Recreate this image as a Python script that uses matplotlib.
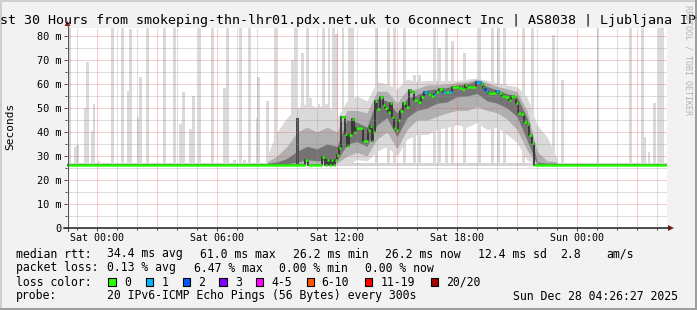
import matplotlib
matplotlib.use("Agg")
import matplotlib.pyplot as plt
from matplotlib.patches import Rectangle, Polygon
from matplotlib.lines import Line2D
import numpy as np

# ---------------- data ----------------
title = "Last 30 Hours from smokeping-thn-lhr01.pdx.net.uk to 6connect Inc | AS8038 | Ljubljana IPv6"

# hours relative to Sat 00:00
x_range = [-1.5, 28.5]
y_top = 83.33

tick_hours = [0, 6, 12, 18, 24]
tick_labels = ["Sat 00:00", "Sat 06:00", "Sat 12:00", "Sat 18:00", "Sun 00:00"]
ytick_vals = [0, 10, 20, 30, 40, 50, 60, 70, 80]
ytick_labels = ["0", "10 m", "20 m", "30 m", "40 m", "50 m", "60 m", "70 m", "80 m"]

# median rtt (ms): segment start hours, values, loss class
med_h = [-1.5, 10.4, 10.55, 11.25, 11.4, 11.5, 11.6, 11.7, 11.8, 11.9, 12.0, 12.1,
         12.2, 12.4, 12.5, 12.6, 12.75, 12.85, 12.95, 13.3, 13.55, 13.65, 13.75, 13.8,
         13.9, 14.0, 14.15, 14.3, 14.4, 14.55, 14.65, 14.75, 14.85, 14.95, 15.05, 15.15,
         15.3, 15.45, 15.6, 15.7, 15.85, 16.05, 16.2, 16.35, 16.55, 16.7, 16.85, 16.95,
         17.1, 17.3, 17.45, 17.6, 17.75, 18.1, 18.25, 18.4, 18.5, 18.95, 19.2, 19.3,
         19.35, 19.45, 19.55, 19.65, 19.95, 20.1, 20.25, 20.4, 20.6, 20.7, 20.85, 20.95,
         21.05, 21.2, 21.35, 21.5, 21.6, 21.75, 21.85, 28.5]
med_v = [26.2, 28.3, 26.2, 29.7, 26.2, 28.5, 26.2, 28.3, 26.2, 28.3, 30.6, 33.2,
         46.1, 39.2, 34.2, 38.8, 45.3, 40.1, 41.5, 36.4, 41.0, 42.5, 36.4, 40.0,
         53.0, 49.4, 54.7, 51.3, 50.0, 48.5, 52.0, 46.4, 41.5, 41.0, 45.0, 48.9,
         52.0, 50.5, 57.5, 56.5, 53.3, 52.5, 54.4, 56.8, 56.0, 55.0, 56.0, 56.8,
         57.8, 56.5, 56.8, 56.5, 58.9, 58.2, 57.8, 59.6, 58.6, 60.8, 60.0, 58.9,
         57.8, 57.2, 56.1, 56.4, 57.2, 56.1, 55.0, 54.5, 53.3, 55.0, 54.7, 52.0,
         47.8, 47.5, 44.3, 43.5, 38.8, 35.6, 26.2, 26.2]
med_loss = [0, 0, 0, 0, 0, 0, 0, 0, 0, 0, 0, 0,
            0, 0, 0, 0, 0, 0, 0, 0, 0, 0, 0, 0,
            0, 0, 0, 0, 0, 0, 0, 0, 0, 0, 0, 0,
            0, 0, 0, 0, 0, 0, 0, 1, 0, 0, 1, 0,
            0, 1, 0, 1, 0, 0, 0, 0, 0, 1, 0, 0,
            2, 1, 0, 0, 1, 0, 0, 0, 0, 0, 0, 0,
            0, 0, 0, 0, 0, 0, 0]

# smoke percentiles in the busy period (ms), every half hour
band_h = [8.5, 9.0, 9.5, 10.0, 10.5, 11.0, 11.5, 12.0, 12.5, 13.0, 13.5, 14.0, 14.5, 15.0,
          15.5, 16.0, 16.5, 17.0, 17.5, 18.0, 18.5, 19.0, 19.5, 20.0, 20.5, 21.0, 21.5,
          22.0, 22.5, 23.0]
band_min = [26.3, 26.5, 26.5, 26.5, 26.5, 26.5, 26.5, 26.5, 27.0, 28.5, 28.0, 32.0, 34.0, 30.0,
            37.0, 39.0, 39.0, 41.0, 42.0, 43.0, 42.0, 44.0, 41.0, 42.0, 39.0, 35.6, 28.3,
            26.3, 26.3, 26.3]
band_p10 = [26.5, 26.6, 26.6, 26.8, 27.0, 27.0, 27.0, 27.0, 30.0, 31.5, 30.0, 37.0, 40.0, 33.0,
            41.0, 45.0, 45.0, 46.5, 48.0, 49.0, 49.0, 50.5, 49.0, 48.0, 45.4, 41.0, 32.5,
            26.5, 26.5, 26.5]
band_p25 = [26.6, 26.8, 26.8, 27.5, 28.5, 28.0, 28.5, 28.0, 35.0, 36.0, 34.0, 43.0, 46.0, 38.0,
            46.0, 49.0, 50.0, 52.0, 52.5, 54.7, 55.0, 56.0, 53.0, 52.0, 50.0, 46.4, 36.7,
            26.6, 26.6, 26.6]
band_p75 = [27.0, 27.5, 29.0, 32.0, 34.0, 33.0, 35.0, 34.0, 45.0, 44.0, 42.0, 54.0, 53.0, 48.0,
            54.0, 55.5, 57.5, 58.0, 58.5, 59.6, 60.0, 61.4, 59.0, 57.5, 56.0, 54.7, 46.0,
            27.5, 27.0, 27.0]
band_p90 = [27.5, 30.0, 34.0, 40.0, 42.0, 40.0, 42.0, 40.0, 49.0, 49.0, 48.0, 57.0, 57.0, 52.0,
            57.5, 58.0, 59.6, 59.6, 60.0, 60.6, 61.0, 62.0, 60.6, 59.0, 58.0, 56.8, 49.0,
            32.0, 28.0, 27.5]
band_max = [30.0, 40.0, 46.0, 50.0, 52.0, 50.0, 52.0, 46.0, 53.0, 55.0, 53.0, 61.0, 60.0, 58.0,
            62.0, 61.0, 61.5, 61.5, 61.5, 61.5, 62.0, 62.5, 61.5, 60.5, 59.6, 58.9, 54.7,
            43.0, 38.0, 29.0]

# single-sample outliers (light smoke columns): start hour, top (ms)
spike_h = [-1.45, -1.15, -1.05, -0.65, -0.55, -0.3, -0.22, 0.03, 0.7, 1.2, 1.5, 1.6,
           2.0, 2.1, 2.45, 3.3, 3.8, 4.1, 4.25, 4.6, 4.75, 5.05, 5.7, 6.3, 6.45, 6.82,
           7.1, 7.32, 7.57, 7.95, 8.0, 8.45, 8.87, 9.7, 9.84, 10.2, 10.44, 10.6, 10.8,
           11.03, 11.27, 11.53, 11.77, 11.9, 12.23, 12.57, 12.7, 13.9, 14.5, 14.8, 15.32,
           15.8, 16.07, 16.8, 17.05, 17.4, 17.7, 18.3, 19.05, 19.7, 20.0, 20.3, 21.25,
           21.7, 22.74, 23.2, 24.98, 26.62, 27.2, 27.32, 27.53, 27.82, 28.07, 28.2]
spike_top = [84, 33.9, 34.6, 49.9, 69.3, 40.4, 51.7, 28.0, 84, 84, 57.0, 82.9,
             46.4, 63.0, 84, 84, 84, 43.3, 56.8, 41.2, 55.1, 84, 84, 58.2, 84, 28.5,
             84, 28.5, 84, 45.7, 63.0, 52.9, 84, 70.0, 84, 72.8, 84, 54.3, 50.5,
             51.5, 84, 84, 84, 80.7, 84, 84, 84, 84, 84, 84, 84,
             63.7, 63.7, 84, 75.0, 84, 78.0, 72.9, 84, 84, 84, 84, 84,
             84, 80.4, 61.7, 84, 84, 84, 38.0, 31.8, 52.0, 84, 84]
dark_spike_h = [9.97]
dark_spike_top = [45.7]

loss_colors = ["#26ff00", "#00b8ff", "#0059ff", "#7e00ff", "#ff00ff", "#ff5500", "#ff0000", "#a10000"]
loss_labels = ["0", "1", "2", "3", "4-5", "6-10", "11-19", "20/20"]

# ---------------- figure ----------------
W, H = 697, 310
fig = plt.figure(figsize=(W / 100, H / 100), dpi=100, facecolor="#f2f2f2")
MONO = "DejaVu Sans Mono"

def fx(x):
    return x / W

def fy(y):
    return 1 - y / H

L, R, T, B = 67, 667, 28, 228
ax = fig.add_axes([fx(L), fy(B), (R - L) / W, (B - T) / H])
ax.set_facecolor("white")
ax.set_xlim(*x_range)
ax.set_ylim(0, y_top)
for s in ax.spines.values():
    s.set_visible(False)

# baseline smoke across the whole period
ax.fill_between(x_range, 26.0, 27.1, color="#d4d4d4", lw=0, zorder=1)

# busy-period smoke
ax.fill_between(band_h, band_min, band_max, color="#dadada", lw=0, zorder=1.2)
ax.fill_between(band_h, band_p10, band_p90, color="#b0b0b0", lw=0, zorder=1.3)
ax.fill_between(band_h, band_p25, band_p75, color="#747474", lw=0, zorder=1.4)

# outlier columns
spike_w = 0.14
ax.bar(spike_h, np.array(spike_top) - 26.8, bottom=26.8, width=spike_w, align="edge",
       color="#dadada", lw=0, zorder=1.1)
ax.bar(dark_spike_h, np.array(dark_spike_top) - 26.8, bottom=26.8, width=0.12, align="edge",
       color="#4a4a4a", lw=0, zorder=1.5)

# dark core following the median
ax.step(med_h, med_v, where="post", color="#333333", lw=1.3, zorder=1.6)

# grid (drawn over smoke)
minor_c = (0.56, 0.56, 0.56, 0.6)
major_c = (0.87, 0.31, 0.31, 0.55)
dot = (0, (1, 1))
for h in range(-1, 29):
    ax.axvline(h, color=major_c if h % 3 == 0 else minor_c, lw=0.72, ls=dot, zorder=3)
for v in range(5, 81, 5):
    ax.axhline(v, color=major_c if v % 10 == 0 else minor_c, lw=0.72, ls=dot, zorder=3)

# median coloured by loss
cols = [loss_colors[k] for k in med_loss]
ax.hlines(med_v[:-1], med_h[:-1], med_h[1:], colors=cols, lw=1.8, zorder=4)

# ticks
ax.set_yticks(ytick_vals)
ax.set_yticklabels(ytick_labels, family=MONO, fontsize=7.4)
ax.set_yticks(list(range(5, 81, 10)), minor=True)
ax.set_xticks(tick_hours)
ax.set_xticklabels(tick_labels, family=MONO, fontsize=7.2)
ax.set_xticks([h for h in range(-1, 29) if h % 6 != 0], minor=True)
ax.tick_params(axis="y", which="major", length=2.2, width=0.7, color="#444444", pad=2.0)
ax.tick_params(axis="y", which="minor", length=1.4, width=0.7, color="#444444")
ax.tick_params(axis="x", which="major", length=2.2, width=0.7, color="#444444", pad=1.2)
ax.tick_params(axis="x", which="minor", length=1.4, width=0.7, color="#444444")

# axes with arrows
arrow_c = (0.5, 0.12, 0.12)
fig.add_artist(Line2D([fx(67.5), fx(67.5)], [fy(231), fy(25)], color="#555555", lw=0.8))
fig.add_artist(Line2D([fx(64), fx(669)], [fy(228), fy(228)], color="#1f1f1f", lw=1.1))
fig.add_artist(Polygon([[fx(64.5), fy(26)], [fx(70.5), fy(26)], [fx(67.5), fy(21)]],
                       closed=True, color=arrow_c, lw=0))
fig.add_artist(Polygon([[fx(668), fy(225)], [fx(668), fy(231)], [fx(674), fy(228)]],
                       closed=True, color=arrow_c, lw=0))

# titles
fig.text(0.5, fy(24), title, family=MONO, fontsize=9.6, ha="center", va="baseline")
fig.text(fx(10.5), fy(126), "Seconds", family=MONO, fontsize=8, rotation=90,
         ha="center", va="center")
fig.text(fx(688), fy(60), "RRDTOOL / TOBI OETIKER", family=MONO, fontsize=6,
         rotation=270, ha="center", va="center", color="#b4b4b4")

# legend lines
FS = 8.3
rows = [
    (257.5, [(16, "median rtt:"), (107.3, "34.4 ms avg"), (200, "61.0 ms max"),
             (293.3, "26.2 ms min"), (385, "26.2 ms now"), (477.5, "12.4 ms sd"),
             (560, "2.8"), (606.7, "am/s")]),
    (271.5, [(16, "packet loss:"), (107.3, "0.13 % avg"), (194, "6.47 % max"),
             (279.3, "0.00 % min"), (365, "0.00 % now")]),
    (285.5, [(16, "loss color:")]),
    (299.5, [(16, "probe:"), (107.3, "20 IPv6-ICMP Echo Pings (56 Bytes) every 300s"),
             (513.3, "Sun Dec 28 04:26:27 2025")]),
]
for yb, items in rows:
    for xx, s in items:
        fig.text(fx(xx), fy(yb), s, family=MONO, fontsize=FS, ha="left", va="baseline")

box_x = [108.3, 145.7, 182.7, 219.3, 256.0, 306.7, 365.0, 430.5]
lab_x = [124.0, 161.7, 198.3, 235.0, 271.7, 321.7, 380.7, 445.7]
for bx, lx, c, lab in zip(box_x, lab_x, loss_colors, loss_labels):
    fig.add_artist(Rectangle((fx(bx), fy(285.5)), 7.3 / W, 7.3 / H, facecolor=c,
                             edgecolor="black", lw=0.8))
    fig.text(fx(lx), fy(285.5), lab, family=MONO, fontsize=FS, ha="left", va="baseline")

# 3D frame
fig.add_artist(Rectangle((0, fy(2)), 1, 2 / H, color="#cfcfcf", lw=0))
fig.add_artist(Rectangle((0, 0), 2 / W, 1, color="#cfcfcf", lw=0))
fig.add_artist(Rectangle((0, 0), 1, 2 / H, color="#9e9e9e", lw=0))
fig.add_artist(Rectangle((1 - 2 / W, 0), 2 / W, 1, color="#9e9e9e", lw=0))

fig.savefig("out.png", dpi=100, facecolor=fig.get_facecolor())
